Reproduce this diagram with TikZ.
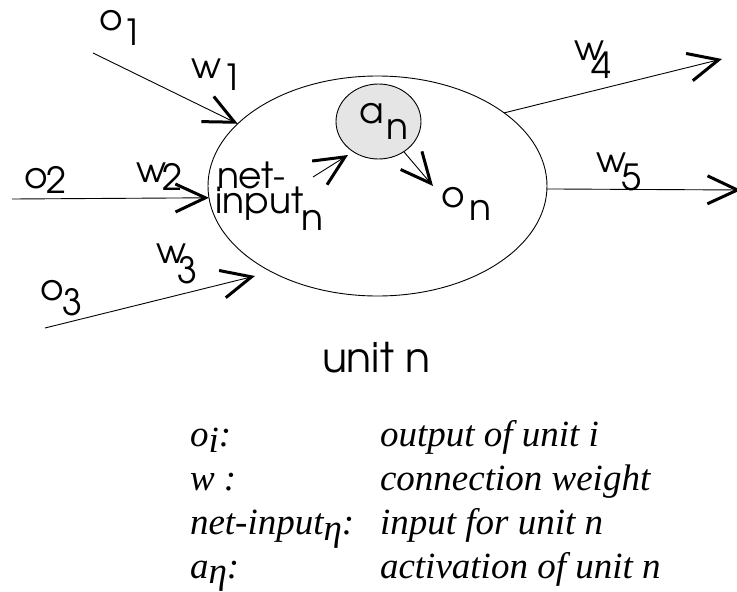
\documentclass[tikz,border=0pt]{standalone}
\usepackage{fontspec}
\setmainfont{texgyreadventor-regular.otf}
\newfontfamily\legendfont{Liberation Serif}
\usetikzlibrary{arrows.meta,shapes.geometric}
\begin{document}
\begin{tikzpicture}[x=1pt,y=-1pt,
  thinline/.style={line width=0.9pt},
  barb/.style={thinline,-{Straight Barb[length=30pt,width=28pt,line width=3pt]}},
  lbl/.style={anchor=base west,inner sep=0pt,outer sep=0pt,font=\fontsize{36}{30}\selectfont},
  leg/.style={anchor=base west,inner sep=0pt,outer sep=0pt,font=\legendfont\itshape\fontsize{37}{37}\selectfont}]
\useasboundingbox (0,0) rectangle (737,592);
% unit ellipse and activation circle
\node[draw,thinline,ellipse,minimum width=339pt,minimum height=220pt,inner sep=0pt,outer sep=0pt] (unit) at (377.5,186) {};
\node[draw,thinline,ellipse,fill=gray!20,minimum width=85pt,minimum height=75pt,inner sep=0pt,outer sep=0pt] (act) at (378.5,121.5) {};
% free ends
\coordinate (s1) at (93,53);
\coordinate (s2) at (12,199);
\coordinate (s3) at (45,328);
\coordinate (t3) at (255,276);
\coordinate (t5) at (741,190);
\coordinate (t4) at (722,59);
\coordinate (sn) at (313,177);
\coordinate (tn) at (348,155);
\coordinate (to) at (433,186);
% connectors
\draw[barb] (s1) -- (unit.156);
\draw[barb] (s2) -- (unit.184.4);
\draw[barb] (s3) -- (t3);
\draw[barb] (unit.30.5) -- (t4);
\draw[barb] (unit.-1.4) -- (t5);
\draw[barb] (sn) -- (tn);
\draw[barb] (act.-50.8) -- (to);
% labels
\node[lbl] (o1) at (99,30) {\makebox[23pt][l]{o}\raisebox{-15pt}{1}};
\node[lbl] (w1) at (191,78) {\makebox[31pt][l]{w}\raisebox{-12pt}{1}};
\node[lbl] (o2) at (24,188) {\makebox[22pt][l]{o}\raisebox{-5pt}{2}};
\node[lbl] (w2) at (136,182) {\makebox[26pt][l]{w}\raisebox{-8pt}{2}};
\node[lbl] (w3) at (156,263) {\makebox[21pt][l]{w}\raisebox{-20pt}{3}};
\node[lbl] (o3) at (41,300) {\makebox[21pt][l]{o}\raisebox{-15pt}{3}};
\node[lbl] (net1) at (217,188) {net-};
\node[lbl] (net2) at (215,213) {\makebox[86pt][l]{input}\raisebox{-17pt}{n}};
\node[lbl] (an) at (359,123) {\makebox[27pt][l]{a}\raisebox{-16pt}{n}};
\node[lbl] (on) at (441,207) {\makebox[28pt][l]{o}\raisebox{-13pt}{n}};
\node[lbl] (w4) at (574,60) {\makebox[17pt][l]{w}\raisebox{-18pt}{4}};
\node[lbl] (w5) at (596,172) {\makebox[25pt][l]{w}\raisebox{-18pt}{5}};
\node[lbl,font=\fontsize{41}{41}\selectfont] (title) at (322,372) {unit n};
% legend
\node[leg] (k1) at (190,446) {o\raisebox{-6pt}{i}:};
\node[leg] (v1) at (380,446) {output of unit i};
\node[leg] (k2) at (190,490) {w :};
\node[leg] (v2) at (380,490) {connection weight};
\node[leg] (k3) at (190,534) {net-input\raisebox{-6pt}{η}:};
\node[leg] (v3) at (380,534) {input for unit n};
\node[leg] (k4) at (190,578) {a\raisebox{-5pt}{η}:};
\node[leg] (v4) at (380,578) {activation of unit n};
\end{tikzpicture}
\end{document}
